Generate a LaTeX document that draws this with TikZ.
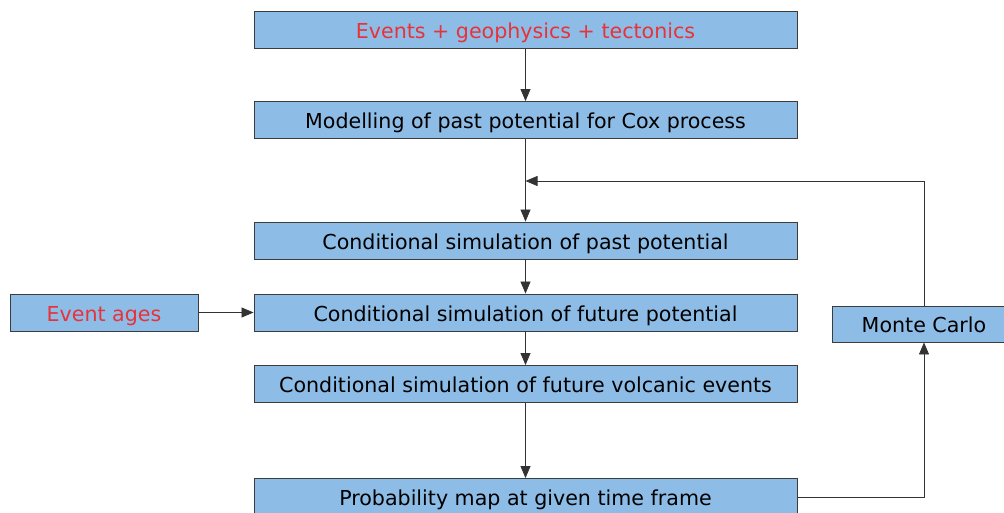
\documentclass[tikz,border=0pt]{standalone}
\usepackage{fontspec}
\setmainfont{DejaVu Sans}
\usetikzlibrary{arrows.meta}
\definecolor{boxblue}{HTML}{8DBDE6}
\definecolor{boxline}{HTML}{3C3C3C}
\definecolor{redtxt}{HTML}{E8323A}
\begin{document}
\begin{tikzpicture}[x=1pt,y=-1pt,
  box/.style={draw=boxline,line width=0.9pt,fill=boxblue,minimum height=37pt,inner sep=0pt,text height=19pt,text depth=2pt,font=\fontsize{20.6}{24}\selectfont},
  wide/.style={box,minimum width=543pt},
  conn/.style={draw=black!80,line width=0.8pt},
  arr/.style={conn,-{Triangle[length=12pt,width=10pt]}}]
\useasboundingbox (0,0) rectangle (1004,513);
\fill[white] (0,0) rectangle (1004,513);
\node[wide,text=redtxt] (ev) at (525.5,30) {Events + geophysics + tectonics};
\node[wide] (mod) at (525.5,120) {Modelling of past potential for Cox process};
\node[wide] (past) at (525.5,240.5) {Conditional simulation of past potential};
\node[wide] (fut) at (525.5,312.5) {Conditional simulation of future potential};
\node[wide] (volc) at (525.5,384) {Conditional simulation of future volcanic events};
\node[wide] (prob) at (525.5,497) {Probability map at given time frame};
\node[box,minimum width=188pt,text=redtxt] (age) at (104,312.5) {Event ages};
\node[box,minimum width=184pt,minimum height=36pt] (mc) at (924,324) {Monte Carlo};
\coordinate (merge) at (525.5,181);
\draw[arr] (ev) -- (mod);
\draw[arr] (mod) -- (past);
\draw[arr] (past) -- (fut);
\draw[arr] (fut) -- (volc);
\draw[arr] (volc) -- (prob);
\draw[arr] (age) -- (fut);
\draw[arr] (prob.east) -| (mc.south);
\draw[arr] (mc.north) |- (merge);
\end{tikzpicture}
\end{document}
